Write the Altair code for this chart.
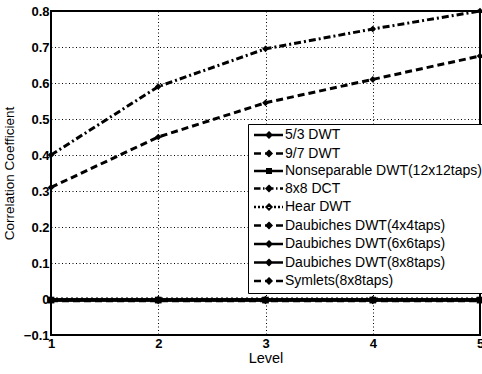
import altair as alt
import pandas as pd

levels = [1, 2, 3, 4, 5]
series = ["5/3 DWT", "9/7 DWT", "Nonseparable DWT(12x12taps)", "8x8 DCT", "Hear DWT",
          "Daubiches DWT(4x4taps)", "Daubiches DWT(6x6taps)", "Daubiches DWT(8x8taps)",
          "Symlets(8x8taps)"]
values = {
    "5/3 DWT": [-0.003, -0.003, -0.003, -0.003, -0.003],
    "9/7 DWT": [0.31, 0.45, 0.545, 0.61, 0.675],
    "Nonseparable DWT(12x12taps)": [-0.003, -0.003, -0.003, -0.003, -0.003],
    "8x8 DCT": [0.40, 0.59, 0.695, 0.75, 0.80],
    "Hear DWT": [0.0, 0.0, 0.0, 0.0, 0.0],
    "Daubiches DWT(4x4taps)": [-0.004, -0.004, -0.004, -0.004, -0.004],
    "Daubiches DWT(6x6taps)": [-0.002, -0.002, -0.002, -0.002, -0.002],
    "Daubiches DWT(8x8taps)": [-0.003, -0.003, -0.003, -0.003, -0.003],
    "Symlets(8x8taps)": [-0.005, -0.005, -0.005, -0.005, -0.005],
}
dashes = [[1, 0], [7, 4], [1, 0], [7, 3, 2, 3], [2, 3], [7, 4], [1, 0], [1, 0], [7, 4]]

# legend glyphs: line segment + marker; one unit = 5 px (symbolSize 100)
solid = "M-1,0H4.8"
dashed = "M-1,0H0.4M1.2,0H2.6M3.4,0H4.8"
dotted = "M-1,0H-0.6M-0.2,0H0.2M0.6,0H1M3,0H3.4M3.8,0H4.2M4.6,0H4.8"
dashdot = "M-1,0H0.3M0.8,0H1.1M1.6,0H2.9M3.4,0H3.7M4.2,0H4.8"
dia = "M2,-0.45L2.45,0L2,0.45L1.55,0Z"
sq = "M1.65,-0.35H2.35V0.35H1.65Z"
legend_paths = [solid + dia, dashed + dia, solid + sq, dashdot + dia, dotted + dia,
                dashed + dia, solid + dia, solid + dia, dashed + dia]
point_shapes = ["diamond", "diamond", "square", "diamond", "diamond", "diamond", "diamond", "diamond", "diamond"]

rows = []
for s in series:
    for l, v in zip(levels, values[s]):
        rows.append({"Level": l, "Value": v, "Series": s})
df = pd.DataFrame(rows)

font = "Liberation Sans"
x = alt.X("Level:Q", scale=alt.Scale(domain=[1, 5], nice=False),
          axis=alt.Axis(title="Level", values=levels, format="d"))
y = alt.Y("Value:Q", scale=alt.Scale(domain=[-0.1, 0.8], nice=False),
          axis=alt.Axis(title="Correlation Coefficient",
                        values=[-0.1, 0, 0.1, 0.2, 0.3, 0.4, 0.5, 0.6, 0.7, 0.8],
                        labelExpr="datum.value == 0 ? '0' : format(datum.value, '.1f')",
                        titlePadding=7, labelPadding=2))

color = alt.Color("Series:N", scale=alt.Scale(domain=series, range=["black"] * 9), legend=None)
dash = alt.StrokeDash("Series:N", scale=alt.Scale(domain=series, range=dashes), legend=None)

lines = alt.Chart(df).mark_line(strokeWidth=3).encode(x=x, y=y, color=color, strokeDash=dash)
points = alt.Chart(df).mark_point(filled=True, size=45, opacity=1).encode(
    x=x, y=y, color=color,
    shape=alt.Shape("Series:N", scale=alt.Scale(domain=series, range=point_shapes), legend=None))

legend = alt.Legend(title=None, orient="none", legendX=197, legendY=113,
                    strokeColor="black", fillColor="white", padding=4,
                    labelFont=font, labelFontSize=14, labelColor="black",
                    rowPadding=2.5, symbolSize=100, symbolStrokeWidth=2.5,
                    symbolStrokeColor="black", symbolFillColor="black",
                    symbolOpacity=1, labelOffset=19, labelLimit=300)
legend_layer = alt.Chart(df).mark_point(opacity=0, filled=False, color="black",
                                        strokeWidth=2.5).encode(
    x=x, y=y,
    shape=alt.Shape("Series:N", sort=series,
                    scale=alt.Scale(domain=series, range=legend_paths), legend=legend))

chart = alt.layer(lines, points, legend_layer).resolve_scale(
    shape="independent"
).resolve_legend(shape="independent").properties(
    width=429, height=324,
    autosize=alt.AutoSizeParams(type="none"),
    padding={"left": 51, "top": 11, "right": 2, "bottom": 39},
    background="white",
).configure_view(stroke="black", strokeWidth=2).configure_axis(
    grid=True, gridDash=[1, 2.5], gridColor="black", gridOpacity=1, gridWidth=1,
    domain=False, tickSize=0, labelOverlap=False, labelFlush=False,
    labelFont=font, labelFontWeight="bold", labelFontSize=13, labelColor="black",
    titleFont=font, titleFontSize=13.5, titleFontWeight="normal", titleColor="black",
).configure_axisX(labelPadding=2, titlePadding=1, titleFontSize=14.5)

chart.save("out.html", embed_options={"renderer": "svg", "actions": False})
